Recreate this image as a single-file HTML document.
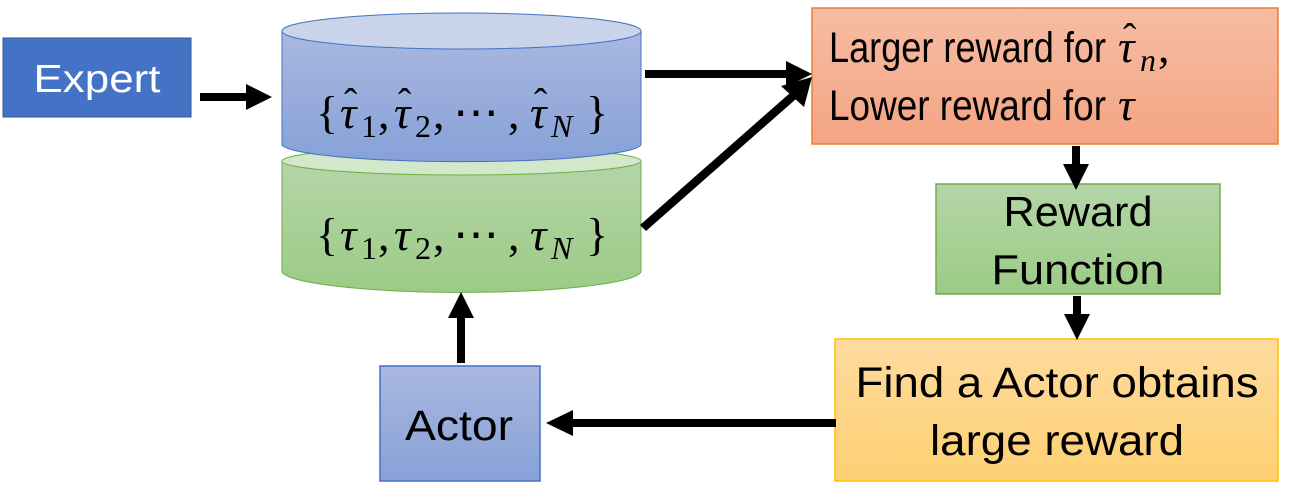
<!DOCTYPE html>
<html><head><meta charset="utf-8"><style>
html,body{margin:0;padding:0;background:#fff;width:1300px;height:501px;overflow:hidden}
</style></head><body>
<svg width="1300" height="501" viewBox="0 0 1300 501" xmlns="http://www.w3.org/2000/svg">
<defs>
<linearGradient id="gB" x1="0" y1="0" x2="0" y2="1"><stop offset="0" stop-color="#a9b8e0"/><stop offset="1" stop-color="#87a1d8"/></linearGradient>
<linearGradient id="gG" x1="0" y1="0" x2="0" y2="1"><stop offset="0" stop-color="#b4d5a8"/><stop offset="1" stop-color="#9ccb86"/></linearGradient>
<linearGradient id="gO" x1="0" y1="0" x2="0" y2="1"><stop offset="0" stop-color="#f6bca4"/><stop offset="1" stop-color="#f4a583"/></linearGradient>
<linearGradient id="gY" x1="0" y1="0" x2="0" y2="1"><stop offset="0" stop-color="#fedb9e"/><stop offset="1" stop-color="#fdd072"/></linearGradient>
</defs>
<rect x="3" y="38" width="188" height="79" fill="#4472c4" stroke="#2f5597" stroke-width="1"/>
<text x="97" y="92" font-family="Liberation Sans,sans-serif" font-size="39" fill="#fff" text-anchor="middle" textLength="127" lengthAdjust="spacingAndGlyphs">Expert</text>
<path d="M282 161 L282 272 A180 22 0 0 0 641 272 L641 161 Z" fill="url(#gG)" stroke="#70ad47" stroke-width="1"/>
<ellipse cx="461.5" cy="161" rx="179.5" ry="14" fill="#d3e7cb" stroke="#70ad47" stroke-width="1"/>
<path d="M282 31 L282 145 A180 18 0 0 0 641 145 L641 31 Z" fill="url(#gB)" stroke="#4472c4" stroke-width="1"/>
<ellipse cx="461.5" cy="31" rx="179.5" ry="18" fill="#c9d3ea" stroke="#4472c4" stroke-width="1"/>
<g font-family="Liberation Serif,serif" font-size="46">
<text x="316" y="128">{</text>
<text x="340" y="128" font-style="italic">τ</text><text x="344" y="116" font-size="40">ˆ</text>
<text x="361" y="137" font-size="32">1</text><text x="378" y="128">,</text>
<text x="394" y="128" font-style="italic">τ</text><text x="398" y="116" font-size="40">ˆ</text>
<text x="415" y="137" font-size="32">2</text><text x="433" y="128">,</text>
<text x="453" y="128">⋯</text><text x="508" y="128">,</text>
<text x="530" y="128" font-style="italic">τ</text><text x="534" y="116" font-size="40">ˆ</text>
<text x="551" y="137" font-size="32" font-style="italic">N</text>
<text x="586" y="128">}</text>
<text x="316" y="250">{</text>
<text x="340" y="250" font-style="italic">τ</text>
<text x="361" y="259" font-size="32">1</text><text x="378" y="250">,</text>
<text x="394" y="250" font-style="italic">τ</text>
<text x="415" y="259" font-size="32">2</text><text x="433" y="250">,</text>
<text x="453" y="250">⋯</text><text x="508" y="250">,</text>
<text x="530" y="250" font-style="italic">τ</text>
<text x="551" y="259" font-size="32" font-style="italic">N</text>
<text x="586" y="250">}</text>
</g>
<rect x="812" y="8" width="466" height="136" fill="url(#gO)" stroke="#ed7d31" stroke-width="1.5"/>
<text x="829" y="62" font-family="Liberation Sans,sans-serif" font-size="43" textLength="277" lengthAdjust="spacingAndGlyphs">Larger reward for</text>
<text x="1118" y="62" font-family="Liberation Serif,serif" font-style="italic" font-size="46">τ</text>
<text x="1123" y="51" font-family="Liberation Serif,serif" font-size="40">ˆ</text>
<text x="1140" y="71" font-family="Liberation Serif,serif" font-style="italic" font-size="32">n</text>
<text x="1158" y="62" font-family="Liberation Serif,serif" font-size="46">,</text>
<text x="829" y="120" font-family="Liberation Sans,sans-serif" font-size="43" textLength="277" lengthAdjust="spacingAndGlyphs">Lower reward for</text>
<text x="1118" y="120" font-family="Liberation Serif,serif" font-style="italic" font-size="46">τ</text>
<rect x="936" y="184" width="284" height="110" fill="url(#gG)" stroke="#70ad47" stroke-width="1.5"/>
<text x="1078" y="226" font-family="Liberation Sans,sans-serif" font-size="42" text-anchor="middle" textLength="149" lengthAdjust="spacingAndGlyphs">Reward</text>
<text x="1078" y="284" font-family="Liberation Sans,sans-serif" font-size="42" text-anchor="middle" textLength="173" lengthAdjust="spacingAndGlyphs">Function</text>
<rect x="835" y="339" width="443" height="142" fill="url(#gY)" stroke="#ffc000" stroke-width="1.5"/>
<text x="1057" y="397" font-family="Liberation Sans,sans-serif" font-size="43" text-anchor="middle" textLength="403" lengthAdjust="spacingAndGlyphs">Find a Actor obtains</text>
<text x="1057" y="455" font-family="Liberation Sans,sans-serif" font-size="43" text-anchor="middle" textLength="254" lengthAdjust="spacingAndGlyphs">large reward</text>
<rect x="380" y="366" width="160" height="115" fill="url(#gB)" stroke="#4472c4" stroke-width="1.5"/>
<text x="459" y="440" font-family="Liberation Sans,sans-serif" font-size="43" text-anchor="middle" textLength="108" lengthAdjust="spacingAndGlyphs">Actor</text>
<g fill="#000">
<rect x="200" y="93" width="47" height="8"/><polygon points="246,84 272,97 246,110"/>
<rect x="645" y="70" width="142" height="8"/><polygon points="786,61 812,74 786,87"/>
<polygon points="640,225 646,231 796,99 790,93"/><polygon points="781,86 812,77 804,107"/>
<rect x="1072" y="146" width="8" height="20"/><polygon points="1063,164 1089,164 1076,190"/>
<rect x="1073" y="296" width="8" height="20"/><polygon points="1064,314 1090,314 1077,340"/>
<rect x="571" y="419" width="265" height="8"/><polygon points="573,410 546,423 573,436"/>
<rect x="457" y="316" width="8" height="47"/><polygon points="448,318 474,318 461,292"/>
</g>
</svg>
</body></html>
